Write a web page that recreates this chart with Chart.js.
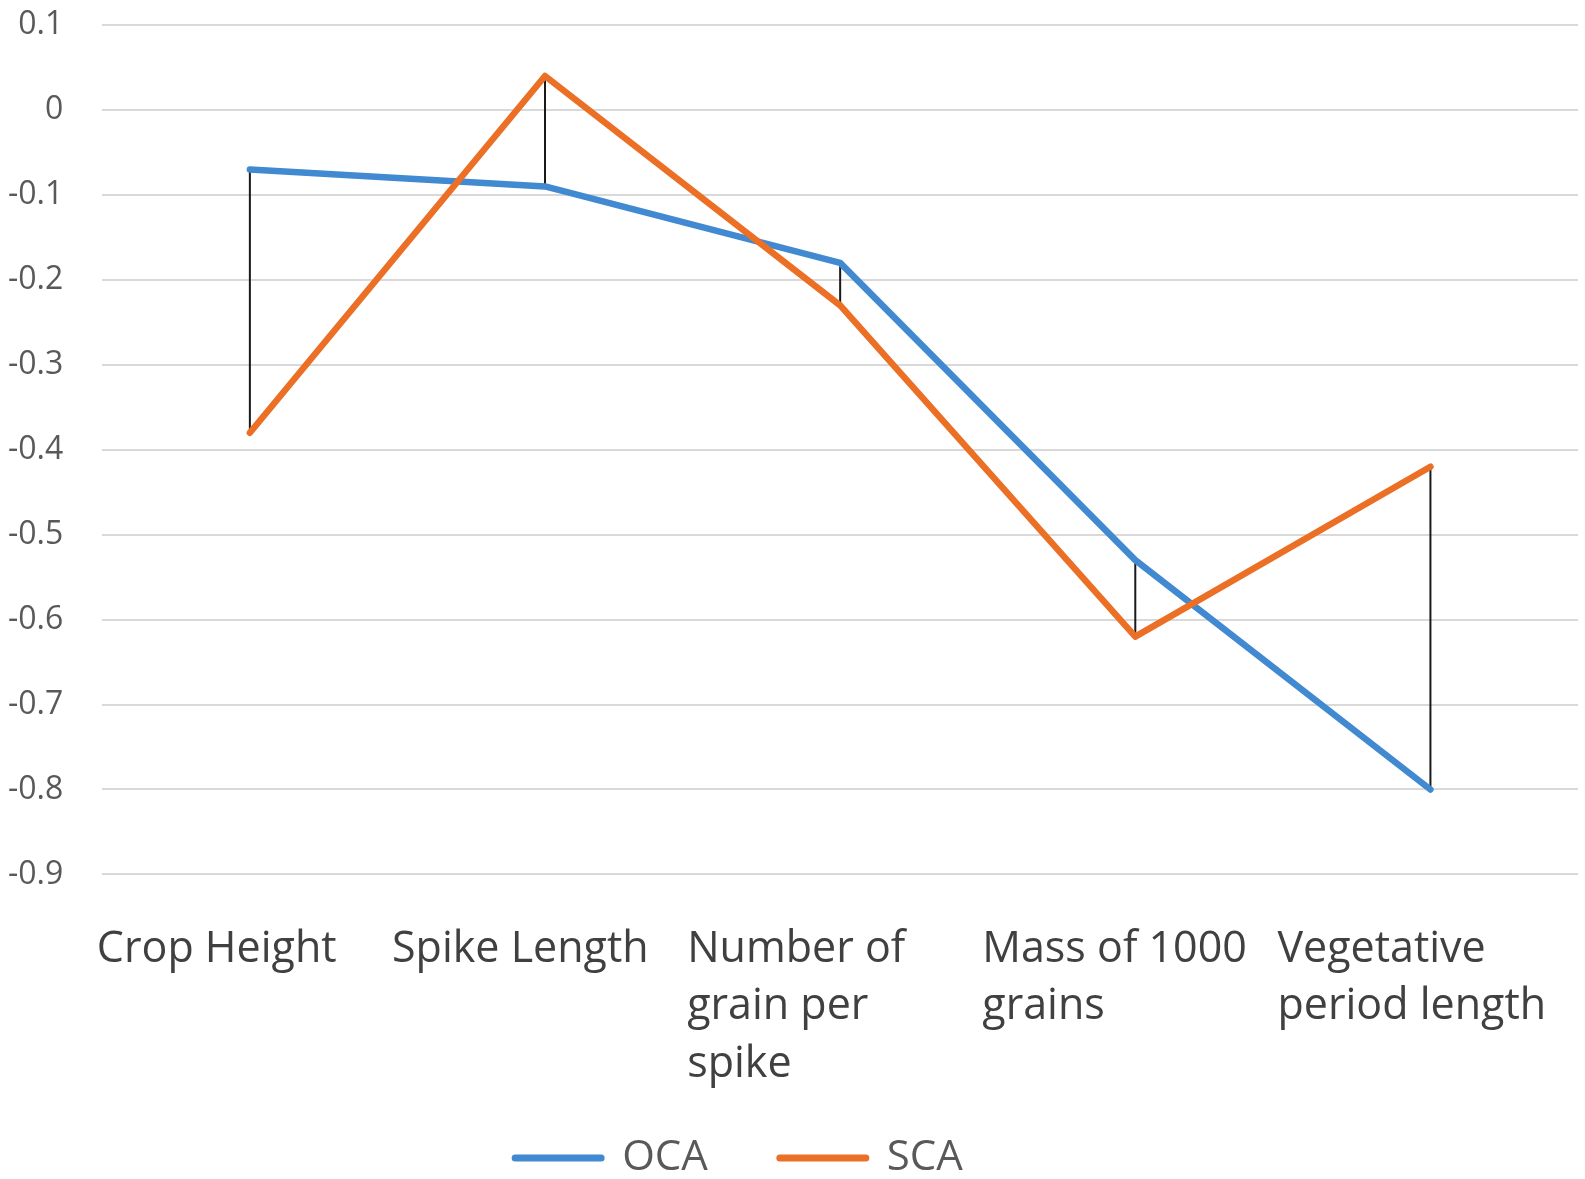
<!DOCTYPE html>
<html>
<head>
<meta charset="utf-8">
<title>OCA vs SCA</title>
<script src="https://cdn.jsdelivr.net/npm/chart.js@4/dist/chart.umd.min.js"></script>
<style>
  html, body { margin: 0; padding: 0; background: #fff; overflow: hidden; }
  #wrap { position: relative; width: 1585px; height: 1179px; }
</style>
</head>
<body>
<div id="wrap"><canvas id="chart"></canvas></div>
<script>
(function () {
  "use strict";

  /* ===== Data ===== */
  var CATEGORIES = [
    ["Crop Height"],
    ["Spike Length"],
    ["Number of", "grain per", "spike"],
    ["Mass of 1000", "grains"],
    ["Vegetative", "period length"]
  ];
  var OCA = [-0.07, -0.09, -0.18, -0.53, -0.80];
  var SCA = [-0.38, 0.04, -0.23, -0.62, -0.42];
  var Y_MIN = -0.9;
  var Y_MAX = 0.1;
  var Y_STEP = 0.1;

  /* ===== Look ===== */
  var FONT = "'Open Sans', 'Noto Sans', sans-serif";
  var COLOR_OCA = "#4189d0";
  var COLOR_SCA = "#ec6f26";
  var COLOR_HILO = "#1a1a1a";
  var COLOR_GRID = "#d9d9d9";
  var COLOR_TEXT = "#595959";
  var COLOR_CAT = "#404040";
  var LINE_W = 6.5;
  var LEGEND_LINE_W = 7;
  var X_PAD = 47;
  var Y_PAD = 39;
  var LEGEND_DX = -54;   // legend sits left of centre in the original
  var LEGEND_DY = -28;

  /* high-low lines between the two series */
  var hiLoLines = {
    id: "hiLoLines",
    beforeDatasetsDraw: function (chart) {
      var a = chart.getDatasetMeta(0).data;
      var b = chart.getDatasetMeta(1).data;
      var ctx = chart.ctx;
      ctx.save();
      ctx.strokeStyle = COLOR_HILO;
      ctx.lineWidth = 2;
      ctx.beginPath();
      for (var i = 0; i < a.length; i++) {
        ctx.moveTo(a[i].x, a[i].y);
        ctx.lineTo(b[i].x, b[i].y);
      }
      ctx.stroke();
      ctx.restore();
    }
  };

  var legendNudge = {
    id: "legendNudge",
    afterLayout: function (chart) {
      var lg = chart.legend;
      if (!lg) return;
      lg.left += LEGEND_DX;
      lg.right += LEGEND_DX;
      lg.top += LEGEND_DY;
      lg.bottom = chart.height;   // legend clips to its box
    }
  };

  new Chart(document.getElementById("chart").getContext("2d"), {
    type: "line",
    data: {
      labels: CATEGORIES,
      datasets: [{
        label: "OCA",
        data: OCA,
        borderColor: COLOR_OCA,
        backgroundColor: COLOR_OCA,
        borderWidth: LINE_W,
        borderCapStyle: "round",
        borderJoinStyle: "round",
        pointRadius: 0,
        tension: 0,
        order: 1
      }, {
        label: "SCA",
        data: SCA,
        borderColor: COLOR_SCA,
        backgroundColor: COLOR_SCA,
        borderWidth: LINE_W,
        borderCapStyle: "round",
        borderJoinStyle: "round",
        pointRadius: 0,
        tension: 0,
        order: 0
      }]
    },
    options: {
      responsive: true,
      maintainAspectRatio: false,
      animation: false,
      layout: { padding: { top: 25, left: 8, right: 7, bottom: 0 } },
      plugins: {
        tooltip: { enabled: false },
        legend: {
          position: "bottom",
          maxHeight: 86,
          labels: {
            usePointStyle: true,
            pointStyle: "line",
            pointStyleWidth: 86,
            padding: 72,
            color: COLOR_TEXT,
            font: { family: FONT, size: 42 },
            sort: function (a, b) { return a.datasetIndex - b.datasetIndex; },
            generateLabels: function (chart) {
              var items = Chart.defaults.plugins.legend.labels.generateLabels(chart);
              items.forEach(function (it) {
                it.lineWidth = LEGEND_LINE_W;
                it.lineCap = "round";
              });
              return items;
            }
          }
        }
      },
      scales: {
        x: {
          offset: true,
          grid: { display: false, drawTicks: false },
          border: { display: false },
          ticks: {
            autoSkip: false,
            maxRotation: 0,
            minRotation: 0,
            align: "start",
            labelOffset: -153,
            padding: X_PAD,
            color: COLOR_CAT,
            font: { family: FONT, size: 43, lineHeight: 1.33 }
          },
          afterFit: function (scale) {
            // chart.js counts tick padding twice and pads for the offset labels
            scale.height -= X_PAD;
            scale.paddingLeft = 0;
            scale.paddingRight = 0;
          }
        },
        y: {
          min: Y_MIN,
          max: Y_MAX,
          grid: { color: COLOR_GRID, lineWidth: 2, drawTicks: false },
          border: { display: false },
          ticks: {
            stepSize: Y_STEP,
            padding: Y_PAD,
            color: COLOR_TEXT,
            font: { family: FONT, size: 32 },
            callback: function (v) { return String(Math.round(v * 10) / 10); }
          },
          afterFit: function (scale) {
            scale.width -= Y_PAD;
            scale.paddingTop = 0;
            scale.paddingBottom = 0;
          }
        }
      }
    },
    plugins: [hiLoLines, legendNudge]
  });
})();
</script>
</body>
</html>
